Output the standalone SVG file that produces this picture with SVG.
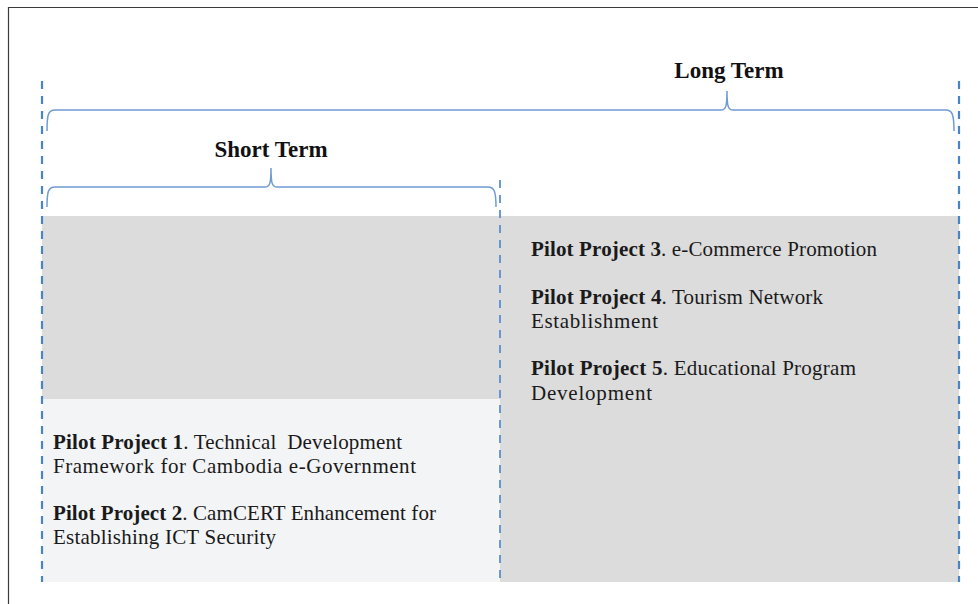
<svg xmlns="http://www.w3.org/2000/svg" width="978" height="604" viewBox="0 0 978 604">
<style>
.frame{fill:none;stroke:#3a3a3a;stroke-width:1.2}
.dash{fill:none;stroke:#4a84c8;stroke-width:2.2;stroke-dasharray:8 7}
.dashmid{fill:none;stroke:#5b8fcf;stroke-width:1.8;stroke-dasharray:8 7}
.brace{fill:none;stroke:#6f9bd3;stroke-width:1.5}
.title{font-family:"Liberation Serif",serif;font-weight:bold;font-size:23px;fill:#111;text-anchor:middle}
.body{font-family:"Liberation Serif",serif;font-size:21px;fill:#1a1a1a}
.b{font-weight:bold}
</style>
<rect x="0" y="0" width="978" height="604" fill="#ffffff"/>
<path class="frame" d="M8.5,604 V7.5 H978"/>
<g id="background">
<rect x="42" y="216" width="917" height="183" fill="#dcdcdc"/>
<rect x="42" y="399" width="458" height="183" fill="#f3f4f6"/>
<rect x="500" y="399" width="459" height="183" fill="#dcdcdc"/>
</g>
<g id="connectors">
<path class="dash" d="M42,81 V582"/>
<path class="dash" d="M959,81 V582"/>
<path class="dashmid" d="M500,180 V582"/>
</g>
<g id="long-term">
<path class="brace" d="M47,131 C47,115 48,110 55,110 H721 C726,110 727,106 727,91 C727,106 728,110 733,110 H946 C952,110 954,114 954,131"/>
<text class="title" x="729" y="78">Long Term</text>
</g>
<g id="short-term">
<path class="brace" d="M47,207 C47,192 48,187 55,187 H265 C270,187 271,183 271,168 C271,183 272,187 277,187 H488 C494,187 496,191 496,207"/>
<text class="title" x="271" y="157">Short Term</text>
</g>
<g id="pilot-project-1">
<text class="body" x="53" y="449" textLength="349" lengthAdjust="spacing" xml:space="preserve"><tspan class="b">Pilot Project 1</tspan>. Technical  Development</text>
<text class="body" x="53" y="473" textLength="363" lengthAdjust="spacing">Framework for Cambodia e-Government</text>
</g>
<g id="pilot-project-2">
<text class="body" x="53" y="520" textLength="383" lengthAdjust="spacing"><tspan class="b">Pilot Project 2</tspan>. CamCERT Enhancement for</text>
<text class="body" x="53" y="544" textLength="223" lengthAdjust="spacing">Establishing ICT Security</text>
</g>
<g id="pilot-project-3">
<text class="body" x="531" y="256" textLength="346" lengthAdjust="spacing"><tspan class="b">Pilot Project 3</tspan>. e-Commerce Promotion</text>
</g>
<g id="pilot-project-4">
<text class="body" x="531" y="304" textLength="292" lengthAdjust="spacing"><tspan class="b">Pilot Project 4</tspan>. Tourism Network</text>
<text class="body" x="531" y="328" textLength="127" lengthAdjust="spacing">Establishment</text>
</g>
<g id="pilot-project-5">
<text class="body" x="531" y="375" textLength="325" lengthAdjust="spacing"><tspan class="b">Pilot Project 5</tspan>. Educational Program</text>
<text class="body" x="531" y="400" textLength="121" lengthAdjust="spacing">Development</text>
</g>
</svg>
